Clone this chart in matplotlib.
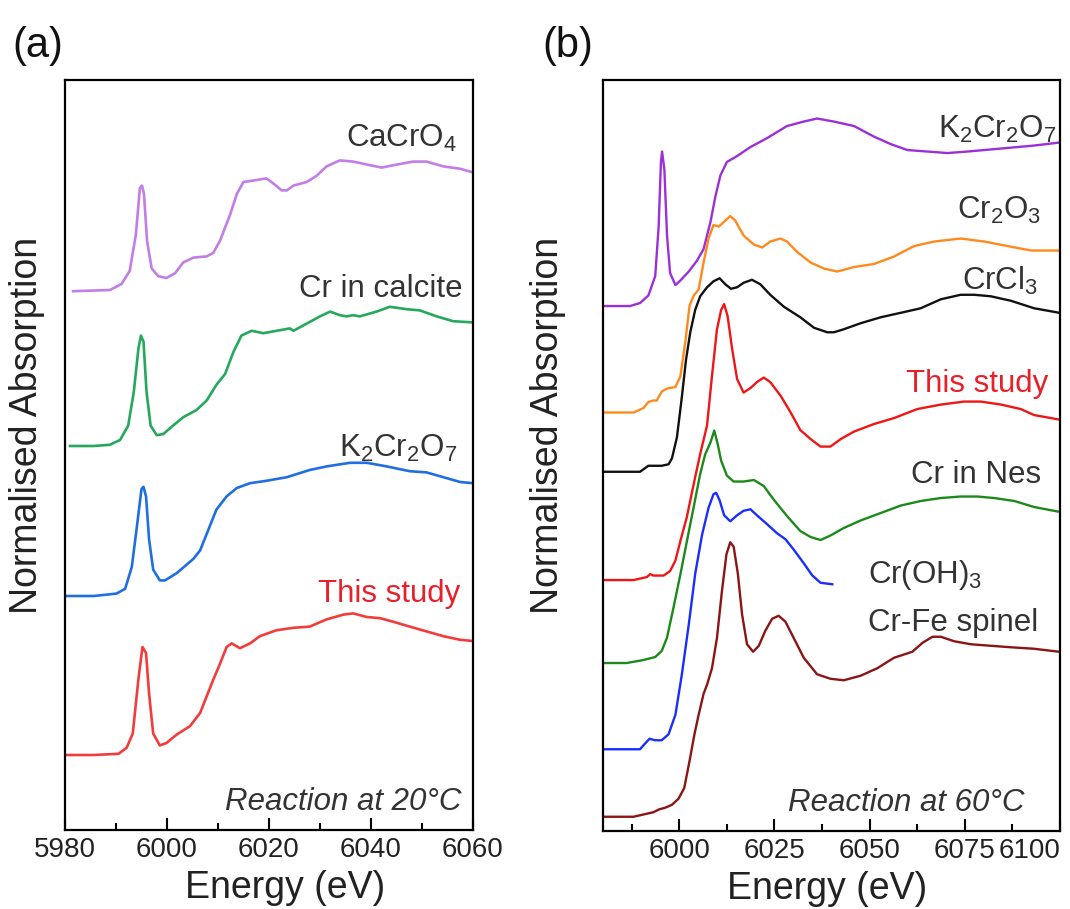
#!/usr/bin/env python3
"""Cr K-edge XANES spectra, two panels (20 C and 60 C reactions)."""
import matplotlib
matplotlib.use("Agg")
import matplotlib.pyplot as plt
from matplotlib.ticker import MultipleLocator

plt.rcParams['font.family'] = ['Liberation Sans', 'DejaVu Sans']
plt.rcParams['mathtext.fontset'] = 'custom'
plt.rcParams['mathtext.rm'] = 'Liberation Sans'
plt.rcParams['mathtext.default'] = 'regular'

# ---- panel (a): reaction at 20 C ----
a_cacro4_e = [5981.6, 5988.8, 5991.1, 5992.7, 5993.9, 5994.7, 5995.1, 5995.5, 5996.1, 5997.0,
              5998.3, 5999.9, 6001.6, 6003.2, 6005.2, 6007.8, 6009.1, 6010.4, 6012.4, 6013.7,
              6015.0, 6016.6, 6019.5, 6020.8, 6022.5, 6023.5, 6024.8, 6027.4, 6029.3, 6031.3,
              6033.9, 6036.5, 6039.8, 6042.1, 6044.4, 6048.3, 6050.9, 6054.2, 6057.5, 6060.0]
a_cacro4_mu = [0.0, 0.01, 0.06, 0.17, 0.47, 0.86, 0.88, 0.81, 0.42, 0.19,
               0.125, 0.11, 0.15, 0.24, 0.28, 0.29, 0.32, 0.42, 0.64, 0.81,
               0.91, 0.92, 0.94, 0.90, 0.84, 0.84, 0.88, 0.91, 0.96, 1.04,
               1.09, 1.08, 1.05, 1.03, 1.05, 1.08, 1.08, 1.04, 1.02, 0.99]

a_calcite_e = [5981.0, 5982.9, 5985.6, 5988.8, 5990.8, 5992.4, 5993.5, 5994.4, 5994.9, 5995.4,
               5996.0, 5996.8, 5998.0, 5999.3, 6001.2, 6003.2, 6005.8, 6007.8, 6009.7, 6011.4,
               6013.0, 6014.6, 6016.6, 6018.9, 6021.5, 6024.1, 6024.8, 6027.4, 6030.0, 6032.0,
               6033.9, 6035.2, 6036.5, 6037.8, 6041.1, 6043.7, 6047.0, 6049.6, 6052.9, 6056.1,
               6060.0]
a_calcite_mu = [0.0, 0.0, 0.0, 0.01, 0.05, 0.17, 0.45, 0.81, 0.92, 0.87,
                0.45, 0.17, 0.09, 0.10, 0.17, 0.24, 0.30, 0.38, 0.51, 0.60,
                0.78, 0.92, 0.96, 0.94, 0.96, 0.98, 0.96, 1.02, 1.08, 1.12,
                1.09, 1.08, 1.09, 1.08, 1.12, 1.16, 1.14, 1.13, 1.08, 1.04,
                1.03]

a_k2cr2o7_e = [5980.3, 5985.6, 5990.1, 5991.8, 5993.1, 5994.2, 5995.0, 5995.4, 5995.9, 5996.5,
               5997.3, 5998.6, 5999.6, 6001.9, 6005.2, 6006.5, 6008.1, 6009.7, 6011.7, 6013.7,
               6016.3, 6019.5, 6023.5, 6028.0, 6031.3, 6035.9, 6039.2, 6043.1, 6047.6, 6050.9,
               6054.2, 6057.5, 6060.0]
a_k2cr2o7_mu = [0.0, 0.0, 0.02, 0.06, 0.24, 0.61, 0.89, 0.91, 0.83, 0.47,
                0.22, 0.13, 0.13, 0.19, 0.31, 0.38, 0.55, 0.72, 0.83, 0.90,
                0.94, 0.96, 0.99, 1.05, 1.08, 1.11, 1.11, 1.08, 1.04, 1.03,
                0.99, 0.95, 0.94]

a_study_e = [5980.3, 5985.6, 5990.5, 5992.1, 5993.3, 5994.4, 5995.2, 5995.9, 5996.5, 5997.3,
             5998.6, 5999.9, 6001.9, 6004.5, 6006.5, 6007.8, 6009.1, 6010.4, 6011.7, 6012.7,
             6014.3, 6016.3, 6018.2, 6021.5, 6024.8, 6028.0, 6031.3, 6034.6, 6036.5, 6039.2,
             6041.8, 6044.4, 6047.6, 6050.9, 6054.2, 6057.5, 6060.0]
a_study_mu = [0.0, 0.0, 0.01, 0.06, 0.18, 0.63, 0.90, 0.85, 0.51, 0.18,
              0.08, 0.10, 0.17, 0.24, 0.35, 0.49, 0.63, 0.76, 0.90, 0.93,
              0.89, 0.93, 0.99, 1.04, 1.06, 1.07, 1.13, 1.17, 1.18, 1.15,
              1.14, 1.11, 1.07, 1.03, 0.99, 0.96, 0.95]

a_names = [r'CaCrO$_4$', 'Cr in calcite', r'K$_2$Cr$_2$O$_7$', 'This study']
a_offsets = [4.49, 3.20, 1.95, 0.625]
a_colors = ['#c17ee6', '#25a85c', '#1f6fe0', '#f23c3c']
a_label_x = [6056.9, 6058.0, 6056.9, 6057.5]
a_label_y = [5.69, 4.44, 3.11, 1.90]

# ---- panel (b): reaction at 60 C ----
b_k2cr2o7_e = [5980.5, 5987.1, 5989.7, 5991.9, 5993.7, 5994.6, 5995.2, 5995.5, 5996.1, 5996.8,
               5997.6, 5999.0, 6000.3, 6002.5, 6004.6, 6006.4, 6008.2, 6009.5, 6010.8, 6012.5,
               6015.2, 6018.7, 6023.1, 6028.3, 6032.7, 6036.2, 6040.6, 6045.9, 6051.1, 6055.5,
               6059.9, 6065.2, 6070.4, 6075.7, 6084.5, 6093.2, 6099.8]
b_k2cr2o7_mu = [0.0, 0.0, 0.02, 0.07, 0.20, 0.53, 0.96, 1.03, 0.91, 0.47,
                0.22, 0.14, 0.17, 0.23, 0.30, 0.38, 0.56, 0.73, 0.87, 0.96,
                1.00, 1.06, 1.12, 1.20, 1.23, 1.25, 1.23, 1.20, 1.13, 1.08,
                1.04, 1.03, 1.02, 1.03, 1.05, 1.07, 1.09]

b_cr2o3_e = [5980.5, 5988.0, 5990.6, 5991.9, 5993.1, 5994.1, 5995.4, 5996.8, 5999.0, 6000.3,
             6001.6, 6002.7, 6003.8, 6005.1, 6006.4, 6007.7, 6009.0, 6010.4, 6011.7, 6013.4,
             6014.7, 6016.9, 6019.6, 6021.8, 6023.9, 6026.6, 6028.3, 6031.0, 6034.5, 6038.0,
             6041.5, 6045.9, 6051.1, 6056.4, 6061.7, 6066.9, 6073.9, 6080.1, 6086.2, 6092.4,
             6099.8]
b_cr2o3_mu = [0.0, 0.0, 0.03, 0.07, 0.08, 0.08, 0.14, 0.16, 0.17, 0.24,
              0.47, 0.71, 0.78, 0.82, 1.00, 1.16, 1.25, 1.24, 1.27, 1.31,
              1.28, 1.18, 1.12, 1.10, 1.14, 1.16, 1.14, 1.07, 1.00, 0.96,
              0.94, 0.97, 0.99, 1.04, 1.11, 1.14, 1.16, 1.14, 1.11, 1.08,
              1.08]

b_crcl3_e = [5980.5, 5989.7, 5991.9, 5993.2, 5995.4, 5997.2, 5998.1, 5999.4, 6000.7, 6001.8,
             6002.9, 6004.2, 6005.5, 6007.3, 6009.0, 6010.6, 6012.1, 6013.6, 6015.2, 6016.9,
             6019.1, 6021.3, 6023.9, 6027.5, 6031.8, 6035.4, 6038.9, 6040.6, 6043.2, 6047.6,
             6052.9, 6058.2, 6063.4, 6068.7, 6073.9, 6077.5, 6081.8, 6087.1, 6093.2, 6099.8]
b_crcl3_mu = [0.0, 0.0, 0.04, 0.04, 0.04, 0.05, 0.09, 0.23, 0.50, 0.75,
              0.93, 1.08, 1.17, 1.23, 1.27, 1.29, 1.25, 1.22, 1.23, 1.26,
              1.28, 1.25, 1.18, 1.10, 1.03, 0.96, 0.93, 0.93, 0.95, 0.99,
              1.03, 1.06, 1.09, 1.15, 1.18, 1.18, 1.17, 1.14, 1.09, 1.06]

b_study_e = [5980.5, 5988.0, 5991.5, 5992.4, 5993.2, 5995.9, 5997.6, 5999.0, 6000.3, 6002.0,
             6003.8, 6005.5, 6007.3, 6008.6, 6009.9, 6011.0, 6011.8, 6012.7, 6013.9, 6015.2,
             6016.9, 6018.7, 6020.4, 6022.2, 6023.9, 6026.6, 6029.2, 6031.8, 6034.5, 6037.1,
             6039.7, 6042.4, 6045.9, 6051.1, 6056.4, 6062.5, 6068.7, 6074.8, 6079.2, 6084.5,
             6089.7, 6093.2, 6099.8]
b_study_mu = [0.0, 0.0, 0.02, 0.04, 0.03, 0.03, 0.06, 0.13, 0.26, 0.42,
              0.64, 0.84, 1.03, 1.36, 1.67, 1.80, 1.84, 1.76, 1.54, 1.34,
              1.25, 1.28, 1.32, 1.35, 1.32, 1.23, 1.12, 1.00, 0.94, 0.89,
              0.89, 0.94, 0.99, 1.04, 1.08, 1.14, 1.17, 1.19, 1.19, 1.17,
              1.14, 1.10, 1.07]

b_nes_e = [5980.5, 5986.2, 5990.6, 5993.7, 5995.4, 5996.8, 5998.5, 6000.3, 6002.0, 6003.8,
           6005.5, 6006.8, 6008.2, 6009.2, 6010.1, 6011.0, 6012.5, 6014.3, 6016.9, 6019.6,
           6022.2, 6024.8, 6028.3, 6031.8, 6034.5, 6037.1, 6039.7, 6043.2, 6047.6, 6052.9,
           6058.2, 6063.4, 6068.7, 6073.9, 6078.3, 6082.7, 6088.0, 6093.2, 6099.4]
b_nes_mu = [0.0, 0.0, 0.02, 0.04, 0.08, 0.17, 0.37, 0.59, 0.81, 1.04,
            1.26, 1.39, 1.47, 1.55, 1.46, 1.35, 1.25, 1.21, 1.21, 1.22,
            1.18, 1.09, 0.98, 0.88, 0.84, 0.82, 0.85, 0.90, 0.95, 1.00,
            1.05, 1.08, 1.10, 1.11, 1.11, 1.10, 1.08, 1.04, 1.01]

b_croh3_e = [5980.5, 5989.7, 5991.1, 5992.2, 5993.7, 5995.4, 5997.2, 5999.0, 6000.7, 6002.5,
             6004.2, 6006.0, 6007.7, 6009.0, 6009.7, 6010.6, 6011.8, 6013.4, 6015.2, 6016.9,
             6018.7, 6020.4, 6023.1, 6025.7, 6027.9, 6030.1, 6032.7, 6034.9, 6037.1, 6040.2]
b_croh3_mu = [0.0, 0.0, 0.04, 0.07, 0.06, 0.06, 0.10, 0.23, 0.50, 0.83,
              1.17, 1.43, 1.61, 1.70, 1.71, 1.66, 1.56, 1.52, 1.56, 1.59,
              1.60, 1.56, 1.50, 1.44, 1.40, 1.33, 1.24, 1.16, 1.11, 1.10]

b_spinel_e = [5980.5, 5988.0, 5993.2, 5994.8, 5996.3, 5998.1, 5999.8, 6001.3, 6002.7, 6004.0,
              6005.1, 6006.4, 6007.3, 6008.6, 6009.9, 6011.2, 6012.4, 6013.4, 6014.3, 6015.4,
              6016.5, 6017.8, 6019.4, 6020.9, 6022.6, 6024.4, 6026.1, 6027.9, 6030.1, 6032.7,
              6036.2, 6039.7, 6043.2, 6047.6, 6052.0, 6056.4, 6061.2, 6063.9, 6066.5, 6068.7,
              6072.2, 6076.6, 6081.8, 6087.1, 6093.2, 6099.8]
b_spinel_mu = [0.0, 0.0, 0.03, 0.05, 0.06, 0.08, 0.12, 0.19, 0.37, 0.55,
               0.68, 0.82, 0.88, 0.99, 1.19, 1.50, 1.75, 1.83, 1.80, 1.62,
               1.35, 1.15, 1.10, 1.14, 1.24, 1.32, 1.34, 1.30, 1.19, 1.06,
               0.95, 0.92, 0.91, 0.94, 0.99, 1.06, 1.10, 1.16, 1.20, 1.20,
               1.17, 1.15, 1.14, 1.13, 1.12, 1.10]

b_names = [r'K$_2$Cr$_2$O$_7$', r'Cr$_2$O$_3$', r'CrCl$_3$', 'This study',
           'Cr in Nes', r'Cr(OH)$_3$', 'Cr-Fe spinel']
b_offsets = [3.50, 2.79, 2.395, 1.673, 1.12, 0.545, 0.095]
b_colors = ['#9b2fd8', '#ff8a1c', '#111111', '#f01616', '#1b8a1b', '#1a2dff', '#8b1414']
b_label_x = [6099.0, 6095.0, 6094.2, 6096.8, 6095.0, 6049.5, 6049.7]
b_label_y = [4.62, 4.08, 3.61, 2.93, 2.32, 1.655, 1.333]
b_label_ha = ['right', 'right', 'right', 'right', 'right', 'left', 'left']

TEXT_GREY = '#333333'
RED_TEXT = '#e8202a'


def style_axis(ax, xmin, xmax, major, minor, ymax):
    ax.set_xlim(xmin, xmax)
    ax.set_ylim(0, ymax)
    ax.set_yticks([])
    ax.xaxis.set_major_locator(MultipleLocator(major))
    ax.xaxis.set_minor_locator(MultipleLocator(minor))
    ax.tick_params(axis='x', which='major', direction='in', length=9, width=1.5,
                   labelsize=20, labelcolor='#222222', pad=5)
    ax.tick_params(axis='x', which='minor', direction='in', length=5, width=1.5)
    for sp in ax.spines.values():
        sp.set_linewidth(1.6)
    ax.set_xlabel('Energy (eV)', fontsize=27, color='#222222')
    ax.set_ylabel('Normalised Absorption', fontsize=27, color='#222222')


fig = plt.figure(figsize=(10.7, 9.09), dpi=100)
ax_a = fig.add_axes([0.0607, 0.0869, 0.3813, 0.8251])
ax_b = fig.add_axes([0.5636, 0.0858, 0.4271, 0.8262])

# panel (a)
a_series = [(a_cacro4_e, a_cacro4_mu), (a_calcite_e, a_calcite_mu),
            (a_k2cr2o7_e, a_k2cr2o7_mu), (a_study_e, a_study_mu)]
for (e, mu), off, col, name, lx, ly in zip(a_series, a_offsets, a_colors, a_names,
                                           a_label_x, a_label_y):
    ax_a.plot(e, [m + off for m in mu], color=col, lw=1.9, solid_joinstyle='round')
    tcol = RED_TEXT if name == 'This study' else TEXT_GREY
    ax_a.text(lx, ly, name, ha='right', va='baseline', fontsize=22.5, color=tcol)
ax_a.text(0.972, 0.027, 'Reaction at 20°C', transform=ax_a.transAxes, ha='right',
          va='baseline', fontsize=22.5, style='italic', color=TEXT_GREY)
style_axis(ax_a, 5980, 6060, 20, 10, 6.25)
ax_a.xaxis.set_label_coords(0.54, -0.053)
ax_a.yaxis.set_label_coords(-0.049, 0.54)

# panel (b)
b_series = [(b_k2cr2o7_e, b_k2cr2o7_mu), (b_cr2o3_e, b_cr2o3_mu), (b_crcl3_e, b_crcl3_mu),
            (b_study_e, b_study_mu), (b_nes_e, b_nes_mu), (b_croh3_e, b_croh3_mu),
            (b_spinel_e, b_spinel_mu)]
for (e, mu), off, col, name, lx, ly, ha in zip(b_series, b_offsets, b_colors, b_names,
                                               b_label_x, b_label_y, b_label_ha):
    ax_b.plot(e, [m + off for m in mu], color=col, lw=1.7, solid_joinstyle='round')
    tcol = RED_TEXT if name == 'This study' else TEXT_GREY
    ax_b.text(lx, ly, name, ha=ha, va='baseline', fontsize=22.5, color=tcol)
ax_b.text(0.923, 0.027, 'Reaction at 60°C', transform=ax_b.transAxes, ha='right',
          va='baseline', fontsize=22.5, style='italic', color=TEXT_GREY)
style_axis(ax_b, 5980, 6100, 25, 12.5, 5.007)
ax_b.xaxis.set_label_coords(0.49, -0.053)
ax_b.yaxis.set_label_coords(-0.081, 0.54)
ax_b.set_xticks([6000, 6025, 6050, 6075, 6100])
ax_b.xaxis.get_major_ticks()[-1].label1.set_horizontalalignment('right')

fig.text(38 / 1070, 1 - 46 / 909, '(a)', ha='center', va='center', fontsize=30, color='#111111')
fig.text(568 / 1070, 1 - 46 / 909, '(b)', ha='center', va='center', fontsize=30, color='#111111')

fig.savefig('out.png', dpi=100)
plt.close(fig)
print("Saved: out.png")
